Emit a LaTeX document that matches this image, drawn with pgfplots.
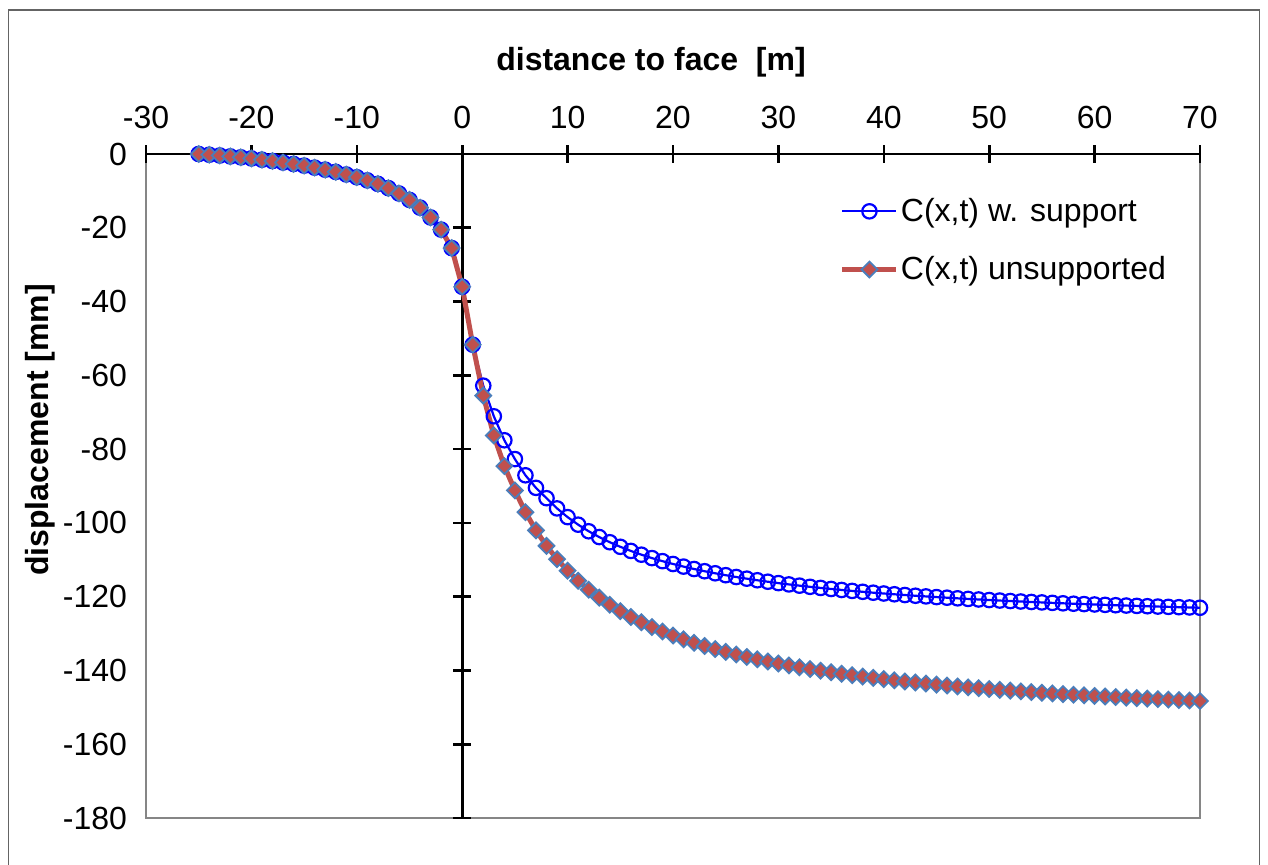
\documentclass[border=0pt]{standalone}
\usepackage{pgfplots}
\usepackage{pgfplotstable}
\pgfplotsset{compat=1.18}
\usepackage{fontspec}
\setmainfont{Liberation Sans}
\definecolor{supblue}{RGB}{0,0,255}
\definecolor{unsred}{RGB}{192,80,77}
\definecolor{unsedge}{RGB}{74,126,187}
\definecolor{framegray}{RGB}{134,134,134}
\definecolor{outergray}{RGB}{100,100,100}
\pgfplotstableread{
x sup uns
-25 0 0
-24 -0.2 -0.2
-23 -0.4 -0.4
-22 -0.65 -0.65
-21 -0.9 -0.9
-20 -1.2 -1.2
-19 -1.55 -1.55
-18 -1.9 -1.9
-17 -2.3 -2.3
-16 -2.7 -2.7
-15 -3.15 -3.15
-14 -3.7 -3.7
-13 -4.25 -4.25
-12 -4.85 -4.85
-11 -5.55 -5.55
-10 -6.3 -6.3
-9 -7.15 -7.15
-8 -8.1 -8.1
-7 -9.25 -9.25
-6 -10.7 -10.7
-5 -12.45 -12.45
-4 -14.55 -14.55
-3 -17.2 -17.2
-2 -20.5 -20.5
-1 -25.5 -25.5
0 -36.0 -36.0
1 -51.7 -51.7
2 -62.8 -65.5
3 -71.1 -76.3
4 -77.6 -84.6
5 -82.7 -91.2
6 -87.1 -97.09
7 -90.5 -102.04
8 -93.30 -106.23
9 -96.07 -109.83
10 -98.44 -112.95
11 -100.48 -115.69
12 -102.27 -118.11
13 -103.84 -120.26
14 -105.24 -122.19
15 -106.48 -123.93
16 -107.60 -125.50
17 -108.62 -126.93
18 -109.54 -128.24
19 -110.37 -129.44
20 -111.14 -130.54
21 -111.85 -131.56
22 -112.50 -132.50
23 -113.10 -133.38
24 -113.66 -134.20
25 -114.18 -134.96
26 -114.67 -135.67
27 -115.12 -136.34
28 -115.55 -136.97
29 -115.95 -137.56
30 -116.32 -138.12
31 -116.68 -138.65
32 -117.01 -139.15
33 -117.33 -139.62
34 -117.63 -140.07
35 -117.91 -140.50
36 -118.18 -140.90
37 -118.44 -141.29
38 -118.68 -141.66
39 -118.92 -142.01
40 -119.14 -142.35
41 -119.35 -142.67
42 -119.55 -142.98
43 -119.75 -143.27
44 -119.93 -143.55
45 -120.11 -143.83
46 -120.28 -144.09
47 -120.45 -144.34
48 -120.61 -144.58
49 -120.76 -144.81
50 -120.91 -145.04
51 -121.05 -145.26
52 -121.18 -145.46
53 -121.31 -145.67
54 -121.44 -145.86
55 -121.56 -146.05
56 -121.68 -146.23
57 -121.80 -146.41
58 -121.91 -146.58
59 -122.01 -146.74
60 -122.12 -146.91
61 -122.22 -147.06
62 -122.32 -147.21
63 -122.41 -147.36
64 -122.50 -147.50
65 -122.59 -147.64
66 -122.68 -147.77
67 -122.76 -147.90
68 -122.85 -148.03
69 -122.92 -148.15
70 -123.00 -148.28
}\datatable
\begin{document}
\begin{tikzpicture}
\useasboundingbox (0,0) rectangle (634pt,432pt);
\fill[white] (0,0) rectangle (634pt,432pt);
\draw[outergray, line width=0.7pt] (4.25pt,-2pt) rectangle (629.75pt,427pt);
% frame and tick labels
\begin{axis}[
  at={(73pt,23pt)}, anchor=south west, scale only axis,
  width=527pt, height=332pt,
  xmin=-30, xmax=70, ymin=-180, ymax=0,
  enlargelimits=false,
  xtick={-30,-20,...,70}, ytick={-180,-160,...,0},
  xticklabel pos=top,
  major tick length=0pt,
  axis line style={draw=framegray, line width=0.7pt},
  tick label style={font=\fontsize{16}{19}\selectfont},
  /pgf/number format/assume math mode=true,
  xticklabel style={yshift=9pt},
  yticklabel style={xshift=-6pt},
]
\end{axis}
% black axis lines with crossing ticks, data and legend
\begin{axis}[
  at={(73pt,23pt)}, anchor=south west, scale only axis,
  width=527pt, height=332pt,
  xmin=-30, xmax=70, ymin=-180, ymax=0,
  enlargelimits=false,
  axis x line*=top, axis y line*=middle,
  axis line style={-, black, line width=1.3pt},
  every inner y axis line/.append style={-},
  every outer x axis line/.append style={-},
  xtick={-30,-20,...,70}, ytick={-180,-160,...,0},
  xticklabels={}, yticklabels={},
  tick align=center, major tick length=9pt,
  tick style={black, line width=1.3pt},
  clip=false,
  legend style={draw=none, fill=none, at={(0.658,0.94)}, anchor=north west,
    font=\fontsize{16}{19}\selectfont, row sep=12pt, inner sep=0pt,
    nodes={inner xsep=1pt}},
  legend cell align=left,
  legend image code/.code={\draw[mark repeat=2,mark phase=2] plot coordinates {(0pt,0pt) (13.5pt,0pt) (27pt,0pt)};},
]
\addplot[supblue, line width=1.1pt, mark=o, mark size=3.6pt,
  mark options={fill=white, draw=supblue, line width=1.1pt}]
  table[x=x, y=sup] {\datatable};
\addlegendentry{C(x,t) w. support}
\addplot[unsred, line width=2.5pt, mark=square*, mark size=2.8pt,
  mark options={fill=unsred, draw=unsedge, line width=0.9pt, rotate=45}]
  table[x=x, y=uns] {\datatable};
\addlegendentry{C(x,t) unsupported}
\end{axis}
\node[font=\fontsize{16}{19}\selectfont\bfseries] at (325.5pt,401pt) {distance to face\ \ [m]};
\node[font=\fontsize{16}{19}\selectfont\bfseries, rotate=90] at (20pt,217pt) {displacement [mm]};
\end{tikzpicture}
\end{document}
